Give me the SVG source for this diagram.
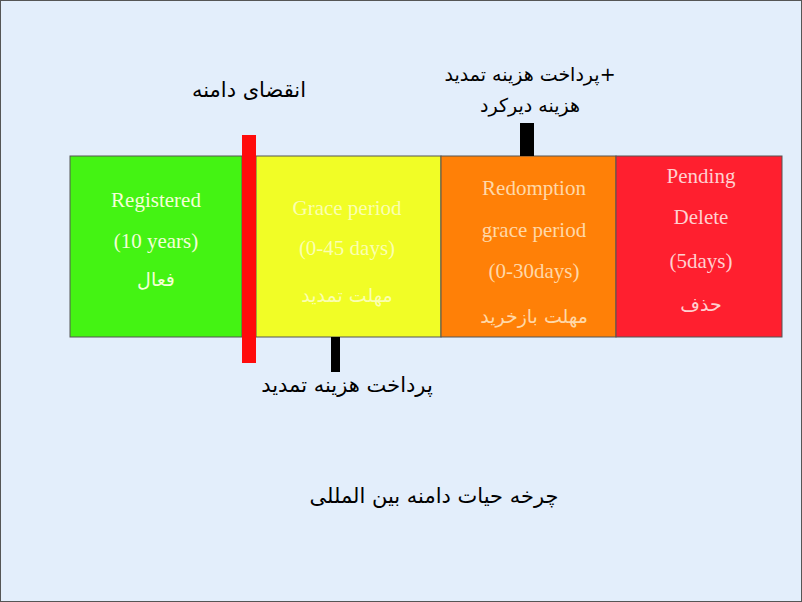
<svg xmlns="http://www.w3.org/2000/svg" width="802" height="602" viewBox="0 0 802 602">
<style>
.box{stroke:#555;stroke-width:1}
.en{font-family:"Liberation Serif",serif;font-size:21px;text-anchor:middle}
.fa{font-family:"DejaVu Sans","Noto Sans",sans-serif;text-anchor:middle}
</style>
<rect x="0.5" y="0.5" width="801" height="601" fill="#e3eefb" stroke="#555"/>
<g id="registered"><rect class="box" x="70" y="156" width="172" height="181" fill="#44f313"/>
<g class="en" fill="#f4ffd8"><text x="156" y="207">Registered</text><text x="156" y="248">(10 years)</text></g>
<text class="fa" x="156" y="286" font-size="19" fill="#f4ffd8">فعال</text></g>
<g id="grace"><rect class="box" x="256" y="156" width="185" height="181" fill="#f1fd26"/>
<g class="en" fill="#fbffb0"><text x="347" y="215">Grace period</text><text x="347" y="255">(0-45 days)</text></g>
<text class="fa" x="347" y="302" font-size="19" fill="#fbffb0">مهلت تمدید</text></g>
<g id="redemption"><rect class="box" x="441" y="156" width="175" height="181" fill="#ff8007"/>
<g class="en" fill="#ffd8a8"><text x="534" y="195">Redomption</text><text x="534" y="237">grace period</text><text x="534" y="278">(0-30days)</text></g>
<text class="fa" x="534" y="323" font-size="19" fill="#ffd8a8">مهلت بازخرید</text></g>
<g id="pending"><rect class="box" x="616" y="156" width="166" height="181" fill="#ff1f2f"/>
<g class="en" fill="#ffd0d0"><text x="701" y="183">Pending</text><text x="701" y="224">Delete</text><text x="701" y="268">(5days)</text></g>
<text class="fa" x="701" y="311" font-size="19" fill="#ffd0d0">حذف</text></g>
<g id="connectors">
<rect x="242" y="135" width="14" height="228" fill="#ff0b0b"/>
<rect x="520" y="123" width="14" height="33" fill="#000"/>
<rect x="331" y="337" width="9" height="35" fill="#000"/>
</g>
<g id="labels" class="fa" fill="#000">
<text x="249" y="97" font-size="21">انقضای دامنه</text>
<text x="530" y="81" font-size="19">پرداخت هزینه تمدید+</text>
<text x="530" y="112" font-size="19">هزینه دیرکرد</text>
<text x="347" y="392" font-size="21">پرداخت هزینه تمدید</text>
<text x="434" y="503" font-size="21">چرخه حیات دامنه بین المللی</text>
</g>
</svg>
